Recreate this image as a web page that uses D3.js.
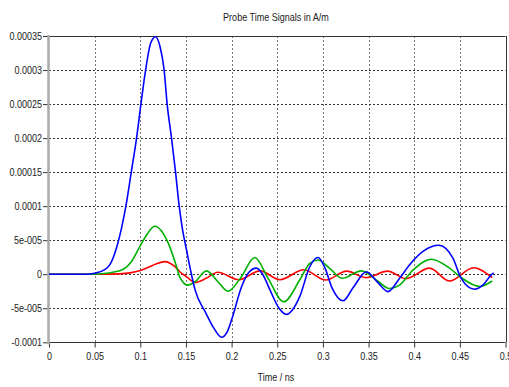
<!DOCTYPE html>
<html>
<head>
<meta charset="utf-8">
<script src="https://cdn.jsdelivr.net/npm/d3@7"></script>
<style>
  html, body { margin: 0; padding: 0; background: #fff; }
  svg { display: block; }
  text { font-family: "Liberation Sans", Arial, sans-serif; font-size: 11px; fill: #222; }
</style>
</head>
<body>
<svg id="chart" width="509" height="387"></svg>
<script>
// Probe signals: time in ns, field value in units of 1e-5 A/m
const blueTime = [0, 0.04, 0.05, 0.06, 0.0667, 0.074, 0.0795, 0.0842, 0.0901, 0.0959, 0.1007, 0.1058, 0.1115, 0.1167, 0.1215, 0.1261, 0.1294, 0.1342, 0.1386, 0.1426, 0.1463, 0.1506, 0.156, 0.16, 0.171, 0.18, 0.189, 0.195, 0.2, 0.211, 0.219, 0.227, 0.234, 0.242, 0.252, 0.26, 0.2746, 0.2856, 0.2946, 0.302, 0.31, 0.322, 0.333, 0.3476, 0.36, 0.3712, 0.384, 0.395, 0.41, 0.427, 0.4424, 0.4515, 0.466, 0.476, 0.4843, 0.487];
const blueValue = [0, 0, 0.15, 0.6, 1.4, 3.9, 6.8, 10, 15, 20, 25, 30, 34, 34.9, 33.5, 30, 25, 20, 15, 10, 6.5, 3.6, 0, -2.3, -5.5, -7.8, -9.25, -8.5, -6.7, -1.8, 0.3, 0.9, 0, -2.3, -5, -5.9, -3.3, 1.1, 2.45, 1, -2, -3.9, -2, 0.35, -1.2, -2.55, -0.6, 1.4, 3.4, 4.25, 2.35, -0.6, -2.2, -1.5, -0.1, 0.2];

const greenTime = [0, 0.05, 0.06, 0.07, 0.081, 0.09, 0.0996, 0.108, 0.116, 0.123, 0.1305, 0.1397, 0.143, 0.152, 0.16, 0.1725, 0.185, 0.196, 0.21, 0.2254, 0.24, 0.257, 0.2746, 0.2856, 0.2946, 0.308, 0.321, 0.342, 0.36, 0.373, 0.384, 0.3986, 0.4187, 0.4387, 0.4515, 0.4716, 0.4855];
const greenValue = [0, 0, 0.1, 0.3, 0.7, 1.8, 4.1, 6, 7.05, 6.4, 4.6, 1.1, -0.35, -1.6, -1.1, 0.5, -1.1, -2.5, -0.5, 2.45, -0.6, -4.05, -0.85, 1.6, 2.1, 0.8, -0.6, 0.5, -1.0, -2.1, -1.6, 0.6, 2.2, 0.9, -0.5, -1.8, -1.0];

const redTime = [0, 0.06, 0.075, 0.0886, 0.1, 0.107, 0.117, 0.127, 0.134, 0.1397, 0.143, 0.1506, 0.16, 0.172, 0.185, 0.208, 0.231, 0.253, 0.279, 0.303, 0.326, 0.347, 0.371, 0.391, 0.4168, 0.4387, 0.465, 0.4855];
const redValue = [0, 0, 0.05, 0.2, 0.55, 0.9, 1.5, 1.85, 1.5, 0.9, 0.4, -0.35, -1.2, -0.6, 0.3, -0.8, 0.5, -0.8, 0.65, -0.85, 0.45, -0.5, 0.45, -0.65, 0.9, -1.0, 0.95, -0.5];

const xTickValues = [0, 0.05, 0.1, 0.15, 0.2, 0.25, 0.3, 0.35, 0.4, 0.45, 0.5];
const xTickLabels = ["0", "0.05", "0.1", "0.15", "0.2", "0.25", "0.3", "0.35", "0.4", "0.45", "0.5"];
const yTickValues = [-0.0001, -0.00005, 0, 0.00005, 0.0001, 0.00015, 0.0002, 0.00025, 0.0003, 0.00035];
const yTickLabels = ["-0.0001", "-5e-005", "0", "5e-005", "0.0001", "0.00015", "0.0002", "0.00025", "0.0003", "0.00035"];

const seriesColors = ["#ff0000", "#00b000", "#0000ff"];
const titleText = "Probe Time Signals in A/m";
const xAxisTitle = "Time / ns";

const svg = d3.select("#chart");
const plotLeft = 49, plotRight = 505.5, plotTop = 36, plotBottom = 342.3;

const x = d3.scaleLinear().domain([0, 0.5]).range([plotLeft, plotRight]);
const y = d3.scaleLinear().domain([-0.0001, 0.00035]).range([plotBottom, plotTop]);

// dotted grid
svg.append("g").selectAll("line").data(xTickValues.slice(1, -1)).join("line")
  .attr("x1", d => Math.round(x(d)) + 0.5).attr("x2", d => Math.round(x(d)) + 0.5)
  .attr("y1", plotTop).attr("y2", plotBottom)
  .attr("stroke", "#777").attr("stroke-width", 1).attr("stroke-dasharray", "2,2");
svg.append("g").selectAll("line").data(yTickValues.slice(1, -1)).join("line")
  .attr("x1", plotLeft).attr("x2", plotRight)
  .attr("y1", d => Math.round(y(d)) + 0.5).attr("y2", d => Math.round(y(d)) + 0.5)
  .attr("stroke", "#333").attr("stroke-width", 1).attr("stroke-dasharray", "2,2");

// plot frame: dark top, bottom and right edges
const frameTop = Math.round(plotTop) + 0.5, frameBottom = Math.round(plotBottom) + 0.5, frameRight = Math.round(plotRight) + 0.5;
svg.append("line").attr("x1", plotLeft).attr("x2", plotRight).attr("y1", frameTop).attr("y2", frameTop).attr("stroke", "#333");
svg.append("line").attr("x1", plotLeft).attr("x2", plotRight).attr("y1", frameBottom).attr("y2", frameBottom).attr("stroke", "#333");
svg.append("line").attr("x1", frameRight).attr("x2", frameRight).attr("y1", plotTop).attr("y2", plotBottom).attr("stroke", "#333");

// axes
const xAxis = d3.axisBottom(x).tickValues(xTickValues).tickFormat((d, i) => xTickLabels[i]).tickSize(5).tickPadding(5);
const gx = svg.append("g").attr("transform", `translate(0,${frameBottom})`).call(xAxis);
gx.attr("font-family", null).attr("font-size", null);
gx.select(".domain").remove();
gx.selectAll(".tick line").attr("stroke", "#333");
gx.selectAll(".tick text").attr("fill", "#222");

const yAxis = d3.axisLeft(y).tickValues(yTickValues).tickFormat((d, i) => yTickLabels[i]).tickSize(5).tickPadding(1);
const gy = svg.append("g").attr("transform", `translate(${plotLeft - 1},0)`).call(yAxis);
gy.attr("font-family", null).attr("font-size", null);
gy.select(".domain").remove();
gy.selectAll(".tick line").attr("stroke", "#333");
gy.selectAll(".tick text").attr("fill", "#222");

// grey left axis bar
svg.append("line").attr("x1", plotLeft - 0.5).attr("x2", plotLeft - 0.5).attr("y1", plotTop - 1).attr("y2", plotBottom + 2)
  .attr("stroke", "#aaa").attr("stroke-width", 2.5);

// curves
svg.append("clipPath").attr("id", "plotClip").append("rect")
  .attr("x", plotLeft).attr("y", plotTop - 2).attr("width", plotRight - plotLeft).attr("height", plotBottom - plotTop + 4);

const line = d3.line().x(d => x(d[0])).y(d => y(d[1] * 1e-5)).curve(d3.curveMonotoneX);
const series = [
  d3.zip(redTime, redValue),
  d3.zip(greenTime, greenValue),
  d3.zip(blueTime, blueValue)
];
svg.append("g").attr("clip-path", "url(#plotClip)").selectAll("path").data(series).join("path")
  .attr("d", line)
  .attr("fill", "none")
  .attr("stroke", (d, i) => seriesColors[i])
  .attr("stroke-width", 1.6)
  .attr("stroke-linejoin", "round");

// titles
svg.append("text").attr("x", 276).attr("y", 21).attr("text-anchor", "middle").text(titleText);
svg.append("text").attr("x", 276).attr("y", 381).attr("text-anchor", "middle").text(xAxisTitle);

// condensed lettering: squeeze every label horizontally
svg.selectAll("text").each(function () {
  const w = this.getComputedTextLength();
  d3.select(this).attr("textLength", (w * 0.82).toFixed(1)).attr("lengthAdjust", "spacingAndGlyphs");
});
</script>
</body>
</html>
